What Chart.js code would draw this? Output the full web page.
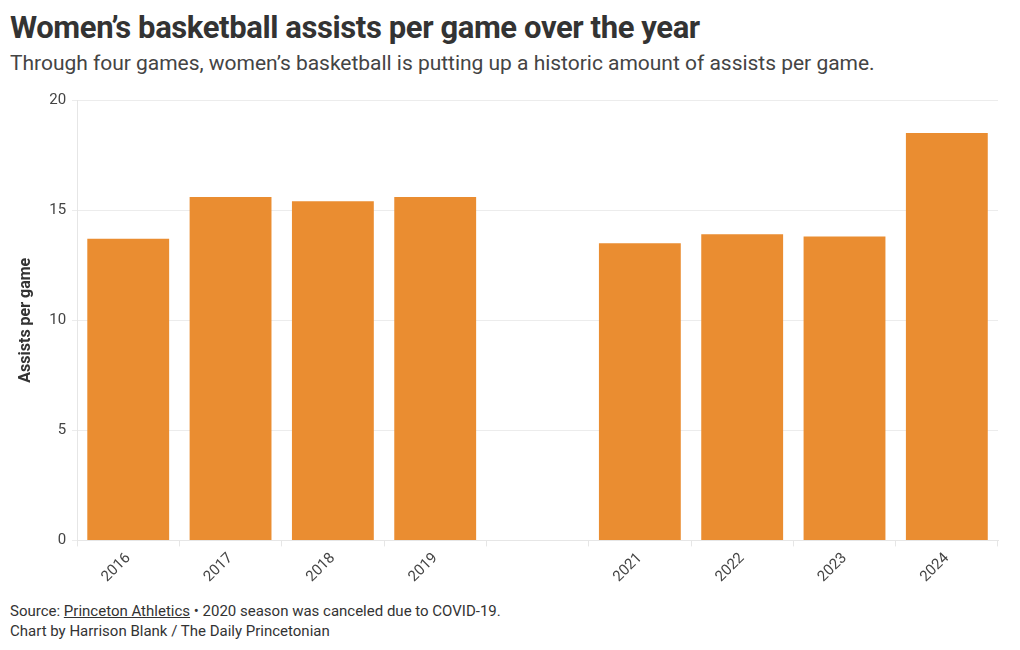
<!DOCTYPE html>
<html>
<head>
<meta charset="utf-8">
<script src="https://cdn.jsdelivr.net/npm/chart.js@4"></script>
<style>
  body { margin: 0; background: #fff; font-family: Roboto, sans-serif; color: #333; }
  #wrap { position: relative; width: 1020px; height: 650px; }
  h1 { position: absolute; left: 10px; top: 9px; margin: 0; font-size: 31px; font-weight: bold; color: #333; letter-spacing: -0.4px; }
  .sub { position: absolute; left: 10px; top: 51px; font-size: 21px; color: #444; letter-spacing: -0.02px; }
  #box { position: absolute; left: 0; top: 85px; width: 1010px; height: 504px; }
  .foot { position: absolute; left: 10px; top: 601px; font-size: 15px; line-height: 20px; color: #333; }
  .foot u { text-decoration: underline; }
</style>
</head>
<body>
<div id="wrap">
  <h1>Women’s basketball assists per game over the year</h1>
  <div class="sub">Through four games, women’s basketball is putting up a historic amount of assists per game.</div>
  <div id="box"><canvas id="chart"></canvas></div>
  <div class="foot">Source: <u>Princeton Athletics</u> • 2020 season was canceled due to COVID-19.<br>Chart by Harrison Blank / The Daily Princetonian</div>
</div>
<script>
'use strict';

var years = ['2016', '2017', '2018', '2019', '2020', '2021', '2022', '2023', '2024'];
var assists = [13.7, 15.6, 15.4, 15.6, null, 13.5, 13.9, 13.8, 18.5];
var yTicks = [0, 5, 10, 15, 20];

var ctx = document.getElementById('chart').getContext('2d');

var chart = new Chart(ctx, {
  type: 'bar',
  data: {
    labels: years,
    datasets: [{
      label: 'Assists per game',
      data: assists,
      backgroundColor: '#ea8d31',
      barPercentage: 0.8,
      categoryPercentage: 1.0
    }]
  },
  options: {
    responsive: true,
    maintainAspectRatio: false,
    animation: false,
    layout: { padding: { top: 6, right: 12, left: 12 } },
    plugins: {
      legend: { display: false },
      tooltip: { enabled: false }
    },
    scales: {
      x: {
        grid: { drawOnChartArea: false, color: '#e6e6e6', tickLength: 6 },
        border: { color: '#e6e6e6' },
        ticks: {
          color: '#444',
          font: { family: 'Roboto', size: 15 },
          maxRotation: 45,
          minRotation: 45,
          callback: function (v, i) { return years[i] === '2020' ? '' : years[i]; }
        }
      },
      y: {
        min: 0,
        max: 20,
        afterBuildTicks: function (axis) {
          axis.ticks = yTicks.map(function (v) { return { value: v }; });
        },
        grid: { color: '#ececec', tickLength: 5 },
        border: { color: '#e6e6e6' },
        ticks: { color: '#444', font: { family: 'Roboto', size: 15 }, padding: 6 },
        title: {
          display: true,
          text: 'Assists per game',
          color: '#333',
          font: { family: 'Roboto', size: 16, weight: 'bold' },
          padding: { bottom: 8 }
        }
      }
    }
  }
});
</script>
</body>
</html>
